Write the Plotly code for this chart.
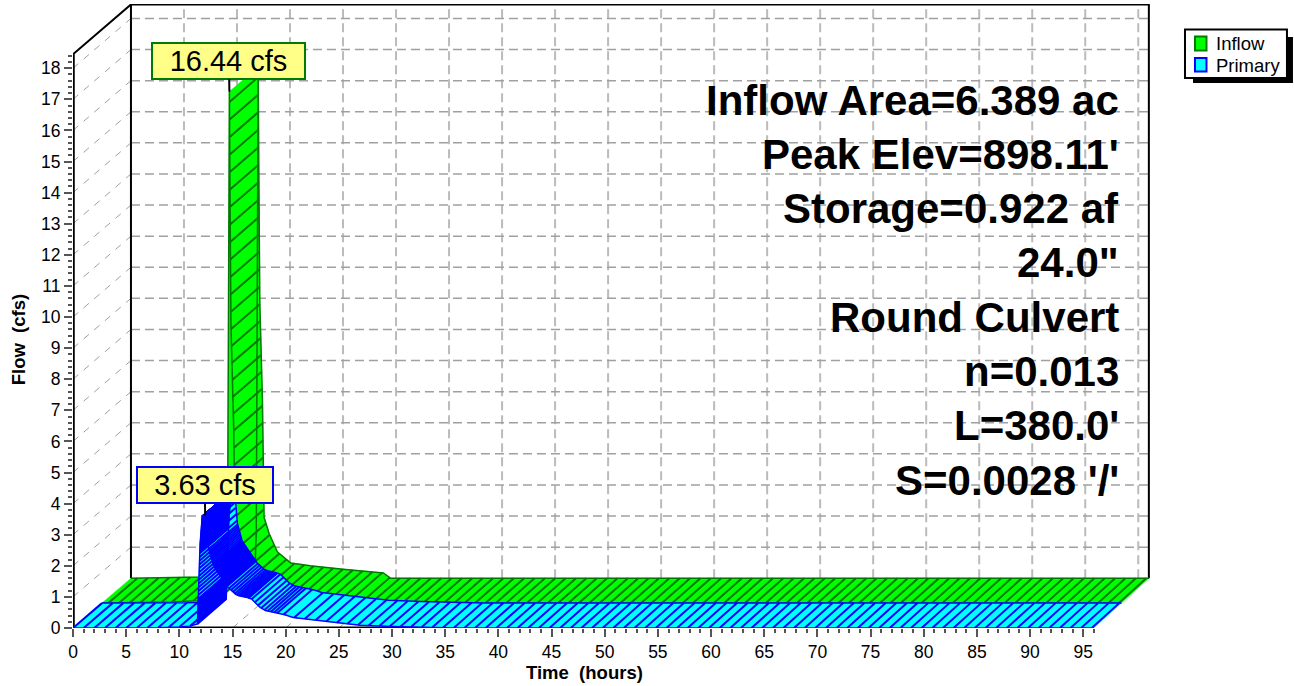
import numpy as np
import plotly.graph_objects as go

# ---------- data ----------
inflow_t = [0, 3, 6.6, 9, 10, 11, 11.7, 11.82, 11.88, 11.95, 12.0, 12.05, 12.1, 12.15, 12.4, 12.46, 12.55,
            13.03, 13.8, 15.07, 16.9, 20, 23.8, 24.5, 96]
inflow_q = [0, 0.01, 0.04, 0.08, 0.12, 0.2, 0.35, 1.5, 6, 9, 16.44, 13.5, 11.7, 8.9, 5.7, 4.4, 1.96,
            1.44, 0.85, 0.49, 0.4, 0.29, 0.17, 0, 0]
primary_t = [0, 5, 8, 10, 11, 11.7, 11.95, 12.15, 12.43, 12.6, 12.75, 13.2, 13.4, 14.3, 14.6, 15.3, 15.6,
             16.4, 16.8, 17.6, 18.1, 19.2, 20, 20.7, 22.6, 24.8, 27, 30, 33.5, 36, 96]
primary_q = [0, 0, 0.01, 0.03, 0.06, 0.13, 2.67, 3.58, 3.63, 3.2, 2.57, 2.0, 1.9, 1.45, 1.3, 1.08, 1.04,
             0.98, 0.93, 0.66, 0.56, 0.48, 0.42, 0.34, 0.26, 0.17, 0.09, 0.05, 0.03, 0, 0]
x_ticks = list(range(0, 100, 5))
y_ticks = list(range(0, 19))
info_lines = ["Inflow Area=6.389 ac", "Peak Elev=898.11'", "Storage=0.922 af", '24.0"',
              "Round Culvert", "n=0.013", "L=380.0'", "S=0.0028 '/'"]
series_names = ["Inflow", "Primary"]
inflow_peak = "16.44 cfs"
primary_peak = "3.63 cfs"

# ---------- layout geometry ----------
W, H = 1294, 686
L, R, T, B = 72.7, 1151.0, 4.0, 628.0
PX_H, PX_Q = 10.637, 31.1
T_END, Q_TOP = 96, 18.45
FONT = "Liberation Sans"
GREEN, DGREEN, CYAN, BLUE = "#00ff00", "#007a00", "#00ffff", "#0000ff"


def proj(t, q, d):
    """Oblique projection of (time, flow, depth 0..1) onto the chart plane."""
    t = np.asarray(t, float)
    q = np.asarray(q, float)
    return t + d * (5.45 - 0.0029 * t), q + d * 1.6


def px(x):
    return (x - L) / (R - L)


def py(y):
    return (B - y) / (B - T)


fig = go.Figure()


def polyline(segments, color, width, dash=None):
    xs, ys = [], []
    for x, y in segments:
        xs += list(x) + [None]
        ys += list(y) + [None]
    fig.add_trace(go.Scatter(x=xs, y=ys, mode="lines", showlegend=False, hoverinfo="skip", cliponaxis=False,
                             line=dict(color=color, width=width, dash=dash)))


def depth_seg(t, q, d0=0.0, d1=1.0):
    p0 = proj(t, q, d0)
    p1 = proj(t, q, d1)
    return np.array([p0[0], p1[0]]), np.array([p0[1], p1[1]])


# back wall / side wall / floor grid
DASH = "9px,5px"
polyline([proj([t, t], [0, Q_TOP], 1) for t in x_ticks], "#bbbbbb", 2, DASH)
polyline([proj([0, T_END], [q, q], 1) for q in y_ticks[1:]], "#a0a0a0", 1.5, DASH)
polyline([depth_seg(0, q) for q in y_ticks[1:]], "#a0a0a0", 1, "7px,7px")
polyline([depth_seg(t, 0) for t in x_ticks[1:]], "#a0a0a0", 1, "7px,7px")

# frame
a = proj(0, Q_TOP, 0); b = proj(0, Q_TOP, 1); c = proj(T_END, Q_TOP, 1); e = proj(T_END, 0, 1); f = proj(0, 0, 1)
polyline([(np.array([a[0], b[0], c[0], e[0]]), np.array([a[1], b[1], c[1], e[1]])),
          (np.array([f[0], b[0]]), np.array([f[1], b[1]]))], "black", 2)
polyline([(np.array([0, 0]), np.array([0, Q_TOP]))], "black", 3.5)
polyline([(np.array([0, T_END]), np.array([0, 0]))], "black", 3)


def ribbon(t, q, d0, d1, fill, edge, hatch_t, hatch_w):
    t = np.asarray(t, float)
    q = np.asarray(q, float)
    x0, y0 = proj(t, q, d0)
    x1, y1 = proj(t, q, d1)
    for i in range(len(t) - 1):
        fig.add_trace(go.Scatter(x=[x0[i], x0[i + 1], x1[i + 1], x1[i], x0[i]],
                                 y=[y0[i], y0[i + 1], y1[i + 1], y1[i], y0[i]],
                                 mode="lines", fill="toself", fillcolor=fill,
                                 line=dict(color=fill, width=0.5), showlegend=False, hoverinfo="skip"))
    hq = np.interp(hatch_t, t, q)
    polyline([depth_seg(ht, hv, d0, d1) for ht, hv in zip(hatch_t, hq)], edge, hatch_w)
    polyline([(x0, y0), (x1, y1)], edge, 1.5)


# inflow hatch: evenly spaced along the falling limb, hourly on the flat part before the rise
it = np.array(inflow_t, float)
iq = np.array(inflow_q, float)
fall = it >= 12.0
s = np.concatenate([[0], np.cumsum(np.abs(np.diff(it[fall])) * PX_H + np.abs(np.diff(iq[fall])) * PX_Q / 1.7)])
inflow_hatch = np.concatenate([np.arange(0.6, 11.8, 1.0), np.interp(np.arange(6, s[-1], 10.4), s, it[fall])])
primary_hatch = np.concatenate([np.arange(0, 11.7, 1.0), np.arange(11.7, 11.78, 0.003), np.arange(11.78, 11.93, 0.012),
                                np.arange(11.93, 12.43, 0.004), np.arange(12.43, 14.5, 0.05),
                                np.arange(14.5, 16.5, 0.18), np.arange(16.5, 19.5, 0.3), np.arange(19.8, 96, 1.0)])

ribbon(inflow_t, inflow_q, 0.5, 1.0, GREEN, DGREEN, inflow_hatch, 2)
ribbon(primary_t, primary_q, 0.0, 0.5, CYAN, BLUE, primary_hatch, 2)

ann = []
for i, line in enumerate(info_lines):
    ann.append(dict(xref="paper", yref="paper", x=px(1121), y=py(100 + i * 54.3), text=f"<b>{line}</b>", showarrow=False,
                    xanchor="right", yanchor="middle", font=dict(family=FONT, size=42, color="black")))
ann.append(dict(xref="paper", yref="paper", x=px(584), y=py(672), text="<b>Time  (hours)</b>", showarrow=False,
                xanchor="center", yanchor="middle", font=dict(family=FONT, size=18.5, color="black")))
ann.append(dict(xref="paper", yref="paper", x=px(18), y=py(340), text="<b>Flow  (cfs)</b>", showarrow=False, textangle=-90,
                xanchor="center", yanchor="middle", font=dict(family=FONT, size=18.5, color="black")))


def peak_label(text, t, q, d, border, w, h, ax, ay):
    x, y = proj(t, q, d)
    return dict(x=float(x), y=float(y), xref="x", yref="y", text=text, showarrow=True, arrowhead=0, arrowwidth=2,
                arrowcolor="black", ax=ax, ay=ay, axref="pixel", ayref="pixel", width=w, height=h, align="center",
                bgcolor="#ffff88", bordercolor=border, borderwidth=2, borderpad=0,
                font=dict(family=FONT, size=29, color="black"))


ann.append(peak_label(inflow_peak, 12.0, 16.44, 0.5, DGREEN, 151, 34, -0.5, -30.5))
ann.append(peak_label(primary_peak, 12.43, 3.63, 0.0, BLUE, 134, 34, -0.5, -30))

# legend box with its drop shadow, swatches and names
shapes = [
    dict(type="rect", xref="paper", yref="paper", x0=px(1193), x1=px(1293), y0=py(83), y1=py(37),
         fillcolor="black", line=dict(width=0), layer="below"),
    dict(type="rect", xref="paper", yref="paper", x0=px(1185), x1=px(1287), y0=py(78), y1=py(29.5),
         fillcolor="white", line=dict(color="black", width=2)),
    dict(type="rect", xref="paper", yref="paper", x0=px(1195), x1=px(1206.5), y0=py(50.5), y1=py(36.5),
         fillcolor=GREEN, line=dict(color=DGREEN, width=2)),
    dict(type="rect", xref="paper", yref="paper", x0=px(1195), x1=px(1206.5), y0=py(71.5), y1=py(58),
         fillcolor=CYAN, line=dict(color=BLUE, width=2)),
]
for name, yc in zip(series_names, [43.5, 65]):
    ann.append(dict(xref="paper", yref="paper", x=px(1214.5), y=py(yc), text=name, showarrow=False, xanchor="left",
                    yanchor="middle", font=dict(family=FONT, size=18.5, color="black")))

fig.update_layout(
    width=W, height=H, autosize=False, paper_bgcolor="white", plot_bgcolor="white",
    margin=dict(l=L, r=W - R, t=T, b=H - B, pad=0, autoexpand=False), annotations=ann, shapes=shapes,
    font=dict(family=FONT, size=17.5, color="black"), showlegend=False,
    xaxis=dict(range=[0, (R - L) / PX_H], tickmode="array", tickvals=x_ticks, ticktext=[str(v) for v in x_ticks],
               ticks="outside", ticklen=8, tickwidth=1.5, tickcolor="#555555", showgrid=False, zeroline=False,
               showline=False, tickangle=0, tickfont=dict(family=FONT, size=17.5),
               minor=dict(tickmode="array", tickvals=list(range(0, 97)), ticks="outside", ticklen=4, tickwidth=1.5,
                          tickcolor="#555555", showgrid=False)),
    yaxis=dict(range=[0, (B - T) / PX_Q], tickmode="array", tickvals=y_ticks, ticktext=[str(v) for v in y_ticks],
               ticks="outside", ticklen=8, tickwidth=1.5, tickcolor="#555555", showgrid=False, zeroline=False,
               showline=False, tickfont=dict(family=FONT, size=17.5),
               minor=dict(tickmode="array", tickvals=[round(v * 0.2, 1) for v in range(0, 93)], ticks="outside",
                          ticklen=4, tickwidth=1.5, tickcolor="#555555", showgrid=False)),
)

fig.write_html("out.html", config={"displayModeBar": False},
               post_script="document.body.style.margin='0';document.body.style.overflow='hidden';")
